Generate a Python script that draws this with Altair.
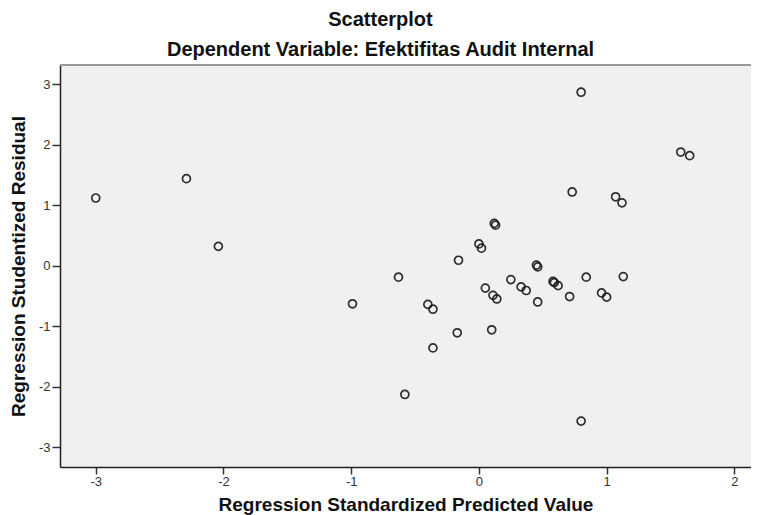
import altair as alt
import pandas as pd

# Regression Standardized Predicted Value
pred = [-3.00, -2.29, -2.04, -0.99, -0.63, -0.40, -0.36, -0.36, -0.58, -0.16,
        -0.17, 0.00, 0.02, 0.12, 0.13, 0.05, 0.10, 0.11, 0.14, 0.25,
        0.33, 0.37, 0.45, 0.46, 0.46, 0.58, 0.59, 0.62, 0.71, 0.73,
        0.80, 0.84, 0.80, 0.96, 1.00, 1.07, 1.12, 1.13, 1.58, 1.65]
# Regression Studentized Residual
resid = [1.12, 1.44, 0.32, -0.63, -0.19, -0.64, -0.72, -1.36, -2.13, 0.09,
         -1.11, 0.36, 0.29, 0.70, 0.67, -0.37, -1.06, -0.49, -0.55, -0.23,
         -0.35, -0.41, 0.01, -0.02, -0.60, -0.26, -0.28, -0.33, -0.51, 1.22,
         2.87, -0.19, -2.57, -0.45, -0.52, 1.14, 1.04, -0.18, 1.88, 1.82]

x_ticks = [-3, -2, -1, 0, 1, 2]
y_ticks = [-3, -2, -1, 0, 1, 2, 3]

df = pd.DataFrame({"pred": pred, "resid": resid})

FONT = "Liberation Sans"

points = alt.Chart(df).mark_point(
    shape="circle", filled=False, size=64, color="#1a1a1a", strokeWidth=1.7, opacity=0.9
).encode(
    x=alt.X("pred:Q", title="Regression Standardized Predicted Value",
            scale=alt.Scale(domain=[-3.28, 2.13], nice=False, zero=False),
            axis=alt.Axis(values=x_ticks, labelExpr="'' + datum.value", grid=False,
                          tickSize=7, labelPadding=1, titleY=43,
                          titleBaseline="alphabetic")),
    y=alt.Y("resid:Q", title="Regression Studentized Residual",
            scale=alt.Scale(domain=[-3.33, 3.32], nice=False, zero=False),
            axis=alt.Axis(values=y_ticks, labelExpr="'' + datum.value", grid=False,
                          tickSize=8, labelPadding=2, titleX=-42, titleY=201,
                          titleAngle=-90, titleBaseline="middle", titleAlign="center")),
)

top_border = alt.Chart(df).mark_rule(color="#999999", strokeWidth=2).encode(
    y=alt.value(0)
)

chart = alt.layer(points, top_border).properties(
    width=691,
    height=402,
    autosize=alt.AutoSizeParams(type="none"),
    padding={"left": 52, "top": 57, "right": 0, "bottom": 48},
    title=alt.TitleParams(
        text="Scatterplot",
        subtitle="Dependent Variable: Efektifitas Audit Internal",
        anchor="middle", frame="bounds",
        font=FONT, fontSize=20, fontWeight="bold", color="#111",
        subtitleFont=FONT, subtitleFontSize=20, subtitleFontWeight="bold",
        subtitleColor="#111", subtitlePadding=10, offset=4,
    ),
).configure_view(
    fill="#F0F0F0", strokeWidth=0
).configure_axis(
    labelFont=FONT, labelFontSize=13, labelColor="#333",
    titleFont=FONT, titleFontSize=19, titleFontWeight="bold", titleColor="#111",
    domainColor="#222", domainWidth=1.5, tickColor="#333", tickWidth=1.5,
)

chart.save("out.html", embed_options={"renderer": "svg", "actions": False})
